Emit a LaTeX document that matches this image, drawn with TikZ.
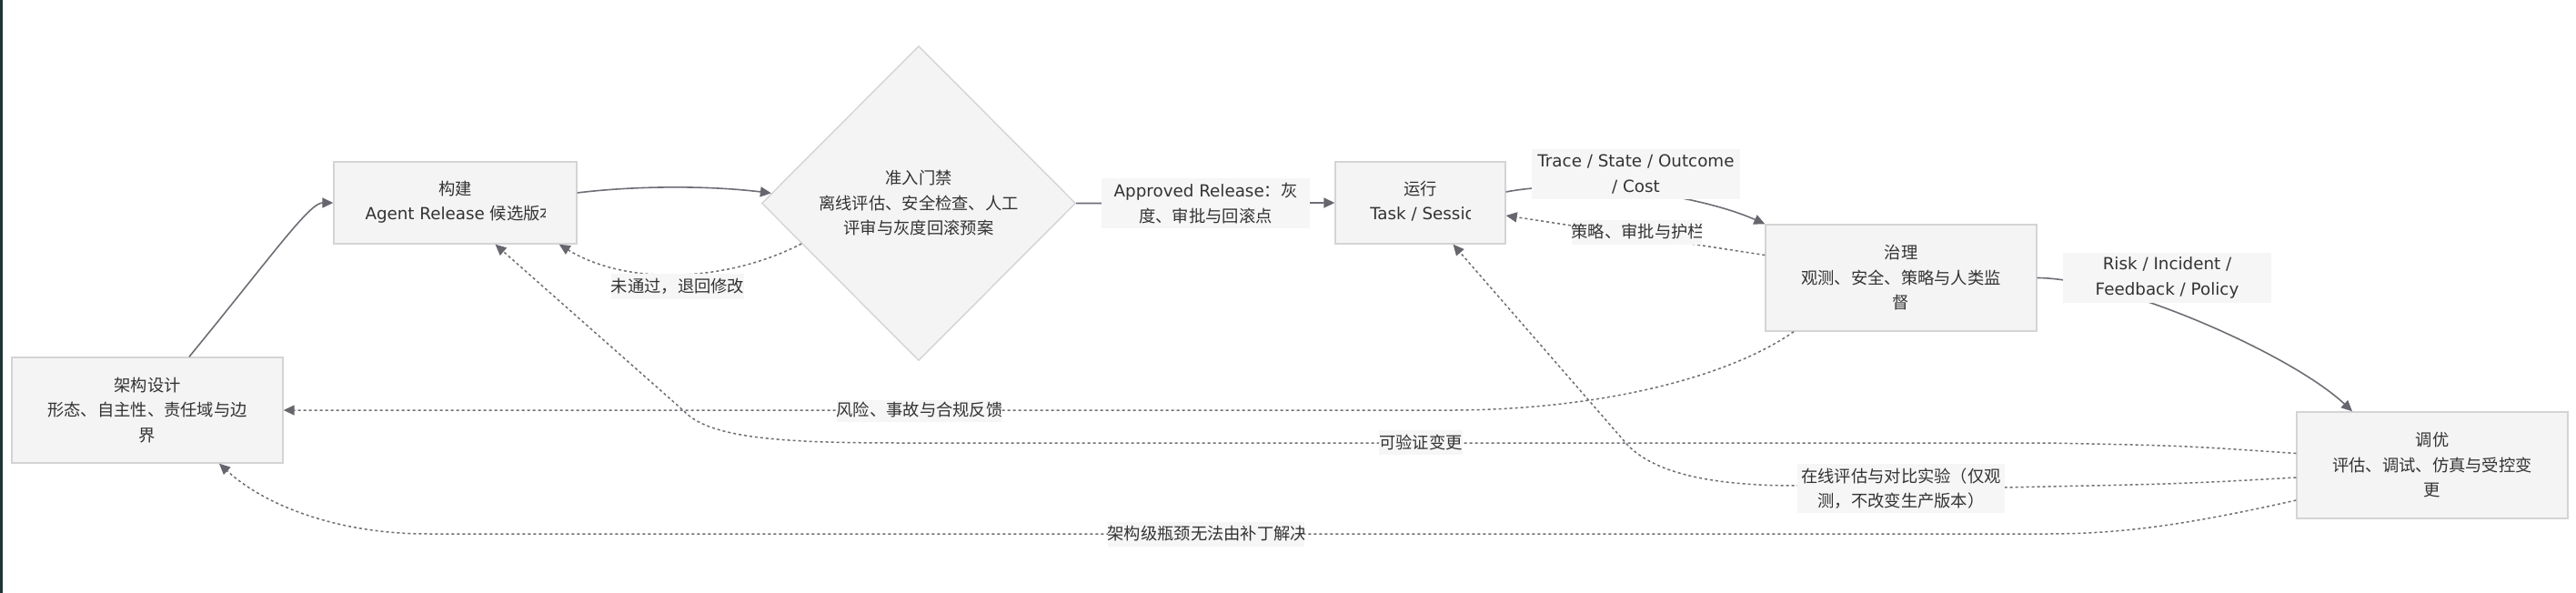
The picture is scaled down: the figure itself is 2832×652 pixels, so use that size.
\documentclass[tikz,border=0pt]{standalone}
\usepackage{fontspec}
\setmainfont{Noto Sans CJK SC}
\newfontfamily\lat{DejaVu Sans}
\usetikzlibrary{arrows.meta,shapes.geometric,calc}
\definecolor{boxfill}{HTML}{F4F4F4}
\definecolor{boxline}{HTML}{D4D4D4}
\definecolor{edgec}{HTML}{6E6E76}
\definecolor{tipc}{HTML}{66666E}
\definecolor{textc}{HTML}{333333}
\definecolor{lblbg}{HTML}{F6F6F6}
\definecolor{stripc}{HTML}{1E3436}
% #1 visible width, #2 text (cut at the right of that width)
\newcommand\cutline[2]{%
  \tikz[baseline=(cuttext.base)]{%
    \path[use as bounding box] (0pt,-5pt) rectangle (#1,17pt);%
    \clip (0pt,-8pt) rectangle (#1,24pt);%
    \node[shape=rectangle,draw=none,fill=none,minimum width=0pt,minimum height=0pt,
      inner sep=0pt,outer sep=0pt,align=left,anchor=base west,text=textc] (cuttext) at (0pt,0pt) {#2};}}
\begin{document}
\begin{tikzpicture}[x=1pt,y=-1pt,
  font=\fontsize{18.3}{27.5}\selectfont,
  box/.style={draw=boxline,fill=boxfill,line width=1.4pt,inner sep=0pt,align=center,text=textc},
  gatebox/.style={diamond,aspect=1,draw=boxline,fill=boxfill,line width=1.4pt,inner sep=0pt,
    align=center,text=textc,minimum width=345pt,minimum height=346pt},
  lbl/.style={fill=lblbg,inner sep=0pt,align=center,text=textc},
  tip/.style={-{Triangle[length=12pt,width=11pt,color=tipc]}},
  flow/.style={draw=edgec,line width=1.6pt,tip},
  fb/.style={draw=edgec,line width=1.5pt,dash pattern=on 3pt off 3pt,tip}]
\useasboundingbox (0,0) rectangle (2832,652);
\fill[white] (0,0) rectangle (2832,652);
\fill[stripc] (0,0) rectangle (3,652);

% boxes
\node[box,minimum width=298pt,minimum height=116pt] (arch) at (162,451) {架构设计\\形态、自主性、责任域与边\\界};
\node[box,minimum width=267pt,minimum height=90pt] (build) at (500.5,223) {构建\\\cutline{198pt}{{\lat Agent Release }候选版本}};
\node[gatebox] (gate) at (1010,223.5) {准入门禁\\离线评估、安全检查、人工\\评审与灰度回滚预案};
\node[box,minimum width=187pt,minimum height=90pt] (run) at (1561.5,223) {运行\\\cutline{110.5pt}{\lat Task / Session}};
\node[box,minimum width=298pt,minimum height=117pt] (gov) at (2090,305.5) {治理\\观测、安全、策略与人类监\\督};
\node[box,minimum width=298pt,minimum height=117pt] (tune) at (2674,511.5) {调优\\评估、调试、仿真与受控变\\更};

% connectors
\draw[flow] ([xshift=46pt]arch.north) .. controls (300,280) and (340,223) .. (build.west);
\draw[flow] ([yshift=11pt]build.east) .. controls (700,204) and (780,204) .. ($(gate.west)!0.064!(gate.north)$);
\draw[fb] ($(gate.west)!0.256!(gate.south)$) .. controls (800,310) and (690,315) .. ([xshift=-20pt]build.south east);
\draw[flow] (gate.east) -- (run.west);
\draw[flow] ([yshift=12pt]run.east) .. controls (1740,195) and (1870,215) .. (gov.north west);
\draw[fb] ([yshift=25pt]gov.west) -- ([yshift=-14pt]run.east);
\draw[flow] (gov.east) .. controls (2330,306) and (2520,390) .. ([xshift=-88pt]tune.north);
\draw[fb] ([xshift=-118pt]gov.south) .. controls (1900,415) and (1760,450) .. (1600,451) -- (arch.east);
\draw[fb] ([yshift=13pt]tune.west) .. controls (2400,490) .. (2250,487) -- (990,487)
  .. controls (860,487) and (780,482) .. (752,452) -- ([xshift=44pt]build.south);
\draw[fb] ([yshift=-13.5pt]tune.west) .. controls (2400,532) .. (2200,536) -- (1976,534)
  .. controls (1880,534) and (1820,520) .. (1790,490) -- ([xshift=36pt]run.south);
\draw[fb] ([yshift=-38.5pt]tune.west) .. controls (2400,578) and (2330,587) .. (2250,587) -- (470,587)
  .. controls (370,587) and (290,555) .. ([xshift=79pt]arch.south);

% edge labels
\node[lbl,minimum width=229pt,minimum height=55pt] (lApp) at (1325.5,223.5) {{\lat Approved Release}：灰\\度、审批与回滚点};
\node[lbl,minimum width=229pt,minimum height=55pt] (lTrace) at (1798.5,191.5) {\lat Trace / State / Outcome\\\lat / Cost};
\node[lbl,minimum height=27pt] (lPol) at (1799,255.5) {\cutline{143pt}{策略、审批与护栏}};
\node[lbl,minimum width=229pt,minimum height=55pt] (lRisk) at (2382.5,305.5) {\lat Risk / Incident /\\\lat Feedback / Policy};
\node[lbl,minimum height=24pt] (lFb) at (1010,451.5) {\cutline{181pt}{风险、事故与合规反馈}};
\node[lbl,minimum height=27pt] (lFail) at (745,315) {未通过，退回修改};
\node[lbl,minimum height=27pt] (lVer) at (1562,486.5) {可验证变更};
\node[lbl,minimum width=228pt,minimum height=54pt] (lOn) at (2090,537) {在线评估与对比实验（仅观\\测，不改变生产版本）};
\node[lbl,minimum height=27pt] (lArc) at (1325.5,587.5) {\cutline{216pt}{架构级瓶颈无法由补丁解决}};
\end{tikzpicture}
\end{document}
